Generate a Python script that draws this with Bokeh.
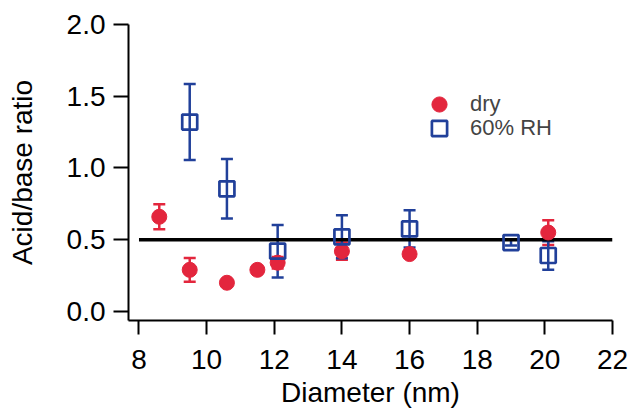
from bokeh.plotting import figure
from bokeh.models import (ColumnDataSource, Range1d, FixedTicker, Whisker, TeeHead,
                          Legend, LegendItem, NumeralTickFormatter)
from bokeh.embed import file_html
from bokeh.resources import INLINE

# ---- data ----
dry_d = [8.6, 9.5, 10.6, 11.5, 12.1, 14.0, 16.0, 20.1]
dry_ratio = [0.66, 0.29, 0.20, 0.29, 0.34, 0.42, 0.40, 0.55]
dry_err = [0.087, 0.083, 0.012, 0.012, 0.04, 0.06, 0.02, 0.086]

rh_d = [9.5, 10.6, 12.1, 14.0, 16.0, 19.0, 20.1]
rh_ratio = [1.32, 0.855, 0.42, 0.52, 0.575, 0.48, 0.39]
rh_err = [0.265, 0.207, 0.183, 0.15, 0.13, 0.02, 0.10]

ref_x = [8, 22]
ref_y = [0.5, 0.5]

x_ticks = [8, 10, 12, 14, 16, 18, 20, 22]
y_ticks = [0.0, 0.5, 1.0, 1.5, 2.0]

RED = "#E3263D"
BLUE = "#21409A"
FONT = "Liberation Sans"

p = figure(width=631, height=411, output_backend="svg", toolbar_location=None,
           x_range=Range1d(7.69, 22), y_range=Range1d(-0.063, 2.0),
           min_border_left=128, min_border_right=19, min_border_top=24, min_border_bottom=91)
p.outline_line_color = None
p.xgrid.visible = False
p.ygrid.visible = False
p.background_fill_color = "white"

for ax in (p.xaxis[0], p.yaxis[0]):
    ax.axis_line_width = 2
    ax.axis_line_color = "black"
    ax.major_tick_line_width = 2
    ax.major_tick_line_color = "black"
    ax.major_tick_in = 0
    ax.minor_tick_line_color = None
    ax.major_label_text_font = FONT
    ax.major_label_text_font_size = "28px"
    ax.major_label_text_color = "black"
    ax.axis_label_text_font = FONT
    ax.axis_label_text_font_style = "normal"
    ax.axis_label_text_font_size = "28px"
    ax.axis_label_text_color = "black"

p.xaxis.ticker = FixedTicker(ticks=x_ticks)
p.yaxis.ticker = FixedTicker(ticks=y_ticks)
p.yaxis.formatter = NumeralTickFormatter(format="0.0")
p.xaxis.major_tick_out = 14
p.yaxis.major_tick_out = 15
p.xaxis.major_label_standoff = 15
p.yaxis.major_label_standoff = 8
p.xaxis.axis_label = "Diameter (nm)"
p.yaxis.axis_label = "Acid/base ratio"
p.xaxis.axis_label_standoff = 5
p.yaxis.axis_label_standoff = 26

# reference line
p.line(ref_x, ref_y, line_color="black", line_width=3.5)

dry_src = ColumnDataSource(dict(x=dry_d, y=dry_ratio,
                                lo=[v - e for v, e in zip(dry_ratio, dry_err)],
                                hi=[v + e for v, e in zip(dry_ratio, dry_err)]))
rh_src = ColumnDataSource(dict(x=rh_d, y=rh_ratio,
                               lo=[v - e for v, e in zip(rh_ratio, rh_err)],
                               hi=[v + e for v, e in zip(rh_ratio, rh_err)]))

w_dry = Whisker(source=dry_src, base="x", upper="hi", lower="lo", dimension="height",
                line_color=RED, line_width=2.5,
                upper_head=TeeHead(size=12, line_color=RED, line_width=2.5),
                lower_head=TeeHead(size=12, line_color=RED, line_width=2.5))
p.add_layout(w_dry)
r_dry = p.scatter("x", "y", source=dry_src, marker="circle", size=15,
                  fill_color=RED, line_color=RED, line_width=1)

w_rh = Whisker(source=rh_src, base="x", upper="hi", lower="lo", dimension="height",
               line_color=BLUE, line_width=2.5,
               upper_head=TeeHead(size=12, line_color=BLUE, line_width=2.5),
               lower_head=TeeHead(size=12, line_color=BLUE, line_width=2.5))
p.add_layout(w_rh)
r_rh = p.scatter("x", "y", source=rh_src, marker="square", size=15,
                 fill_alpha=0, line_color=BLUE, line_width=2.7)

legend_style = dict(padding=0, margin=0, glyph_width=38, glyph_height=38, label_standoff=12,
                    label_text_font=FONT, label_text_font_size="22px",
                    border_line_color=None, background_fill_alpha=0)
leg1 = Legend(items=[LegendItem(label="dry", renderers=[r_dry])],
              location=(292, 197), **legend_style)
leg2 = Legend(items=[LegendItem(label="60% RH", renderers=[r_rh])],
              location=(292, 173), **legend_style)
p.add_layout(leg1)
p.add_layout(leg2)

open("out.html", "w").write(file_html(p, INLINE))
